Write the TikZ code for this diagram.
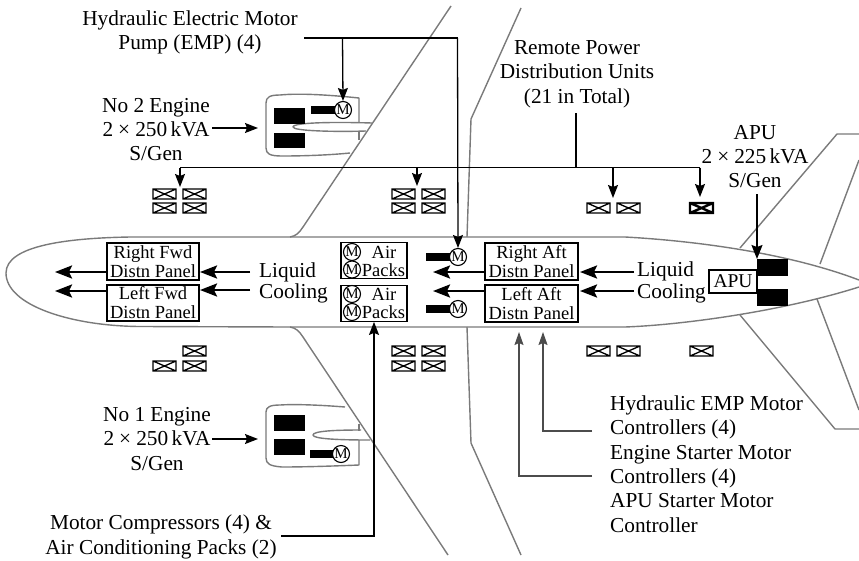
\documentclass[tikz,border=0pt]{standalone}
\usepackage{fontspec}
\setmainfont{Liberation Serif}
\usetikzlibrary{arrows.meta}
\definecolor{bodygray}{HTML}{7A7A7A}
\tikzset{
  x=1pt,y=-1pt,
  body/.style={draw=bodygray,line width=1.4pt,line join=round},
  txt/.style={inner sep=0pt,align=center,font=\fontsize{21.3}{24.3}\selectfont},
  ltxt/.style={txt,align=left},
  panel/.style={draw,line width=1.8pt,inner sep=0pt,align=center,font=\fontsize{18.5}{19}\selectfont},
  packbox/.style={draw,line width=1.3pt,inner sep=0pt},
  motor/.style={circle,draw,fill=white,line width=1.1pt,minimum size=17pt,inner sep=0pt,font=\fontsize{15}{15}\selectfont},
  blk/.style={fill=black,draw=none,inner sep=0pt},
  feed/.style={line width=1.3pt,-{Stealth[length=13pt,width=10pt,inset=2pt]}},
  feedg/.style={draw=black!70,line width=1.3pt,-{Stealth[length=13pt,width=9pt,inset=2pt]}},
  fat/.style={line width=2.4pt,-{Stealth[length=17pt,width=13pt,inset=3pt]}},
  plain/.style={line width=1.3pt},
  rpdu/.style={line width=1.3pt}
}
\newcommand{\rpbox}[3][1.3pt]{\draw[rpdu,line width=#1] (#2,#3) rectangle ++(23,10) (#2,#3) -- ++(23,10) (#2+23,#3) -- ++(-23,10);}
\newcommand{\blkbox}[5]{\node[blk,minimum width=#4pt,minimum height=#5pt] (#1) at (#2,#3) {};}
\begin{document}
\begin{tikzpicture}
\useasboundingbox (0,0) rectangle (859,560);
% fuselage
\draw[body] (290,237) -- (130,237) .. controls (70,238) and (6,245) .. (6,273) .. controls (6,305) and (70,326) .. (140,326.5) -- (290,327) -- (625,327) .. controls (680,325) and (780,312) .. (859,287);
\draw[body] (290,237) -- (625,237) .. controls (680,240) and (780,250) .. (859,280);
% wings
\draw[body] (290,237) .. controls (296,236) and (299,233) .. (303,227) -- (451,6);
\draw[body] (290,327) .. controls (296,328) and (299,331) .. (303,337) -- (448,555);
\draw[body] (467,237) -- (471,119) -- (521,8);
\draw[body] (467,327) -- (471,443) -- (521,555);
% tail
\draw[body] (740,248) -- (837,134) -- (859,134);
\draw[body] (820,264) -- (859,160);
\draw[body] (740,315) -- (835,429) -- (859,429);
\draw[body] (817,299) -- (859,410);
% upper engine
\draw[body] (359,122) -- (359,98) .. controls (330,95) and (300,93) .. (280,95) .. controls (270,95) and (266,97) .. (266,103) -- (266,148) .. controls (266,154) and (270,156) .. (282,156) .. controls (305,156) and (330,155) .. (350,153);
\draw[body] (359,131) -- (359,140);
\draw[body] (372,123) .. controls (340,122) and (293,122) .. (293,127) .. controls (293,131) and (335,132) .. (366,131);
% lower engine
\draw[body] (345,407) .. controls (320,405) and (295,404) .. (280,405) .. controls (270,405) and (266,407) .. (266,412) -- (266,458) .. controls (266,464) and (270,466) .. (282,467) .. controls (305,467) and (335,466) .. (359,465) -- (359,440);
\draw[body] (359,424) -- (359,431);
\draw[body] (361,430) .. controls (335,430) and (313,431) .. (313,435) .. controls (313,439) and (340,440) .. (370,440);
\blkbox{ua}{289.5}{116}{31}{16}
\blkbox{ub}{289.5}{140.5}{31}{15}
\blkbox{uc}{323.5}{110}{25}{8}
\node[motor] (um) at (343,110) {M};
\blkbox{la}{289.5}{423}{31}{16}
\blkbox{lb}{289.5}{447}{31}{16}
\blkbox{lc}{322.5}{454}{25}{8}
\node[motor] (lm) at (341,454) {M};
% RPDU
\foreach \x in {153,183} \foreach \y in {189,203} {\rpbox{\x}{\y}}
\foreach \x in {392,422} \foreach \y in {189,203,346,361} {\rpbox{\x}{\y}}
\rpbox{587}{203}\rpbox{617}{203}\rpbox[2.4pt]{690}{203}
\rpbox{183}{346}\rpbox{153}{361}\rpbox{183}{361}
\rpbox{587}{346}\rpbox{617}{346}\rpbox{690}{346}
% panels
\node[panel,minimum width=92pt,minimum height=37pt] (rfd) at (153,261.5) {Right Fwd\\Distn Panel};
\node[panel,minimum width=92pt,minimum height=36pt] (lfd) at (153,303) {Left Fwd\\Distn Panel};
\node[panel,minimum width=93pt,minimum height=37pt] (rad) at (531.5,261.5) {Right Aft\\Distn Panel};
\node[panel,minimum width=93pt,minimum height=37pt] (lad) at (531.5,303.5) {Left Aft\\Distn Panel};
% air packs
\node[packbox,minimum width=66pt,minimum height=36.5pt] (pk1) at (374,260.5) {};
\node[packbox,minimum width=66pt,minimum height=35.5pt] (pk2) at (374,303.5) {};
\node[motor] (m1) at (352,252) {M};
\node[motor] (m2) at (352,269.5) {M};
\node[motor] (m3) at (352,294) {M};
\node[motor] (m4) at (352,312) {M};
\node[panel,draw=none] (a1) at (384,252) {Air};
\node[panel,draw=none,anchor=east] (p1) at (406,270) {Packs};
\node[panel,draw=none] (a2) at (384,294) {Air};
\node[panel,draw=none,anchor=east] (p2) at (406,312) {Packs};
% centre motors
\blkbox{cu}{438}{257}{24}{8}
\blkbox{cl}{438}{309}{24}{8}
\node[motor] (cum) at (458,257) {M};
\node[motor] (clm) at (458,309) {M};
% APU
\node[draw,line width=1.2pt,inner sep=0pt,minimum width=48pt,minimum height=23pt,font=\fontsize{19.5}{20}\selectfont] (apu) at (733,281.5) {APU};
\blkbox{apa}{772.5}{267}{31}{17}
\blkbox{apb}{772.5}{297.5}{31}{17}
% labels
\node[txt] (hemp) at (190,32.5) {Hydraulic Electric Motor\\Pump (EMP) (4)};
\newcommand{\kva}[1]{2\hspace{5pt}×\hspace{5pt}#1\hspace{3.5pt}kVA}
\node[txt] (ne2) at (156,129.5) {No 2 Engine\\\kva{250}\\S/Gen};
\node[txt] (ne1) at (157,439) {No 1 Engine\\\kva{250}\\S/Gen};
\node[txt] (rpd) at (577,74) {Remote Power\\Distribution Units\\(21 in Total)};
\node[txt] (apl) at (755,156.5) {APU\\\kva{225}\\S/Gen};
\node[txt] (mc) at (161,537) {Motor Compressors (4) \&\\Air Conditioning Packs (2)};
\node[ltxt,anchor=west] (ctl) at (610,464) {Hydraulic EMP Motor\\Controllers (4)\\Engine Starter Motor\\Controllers (4)\\APU Starter Motor\\Controller};
\node[txt,anchor=west] (lq1) at (259,272) {Liquid};
\node[txt,anchor=west] (cl1) at (259,293) {Cooling};
\node[txt,anchor=west] (lq2) at (637,271) {Liquid};
\node[txt,anchor=west] (cl2) at (637,293) {Cooling};
% named connector ends
\coordinate (hs) at (304,38); \coordinate (hj) at (342.5,38); \coordinate (hc) at (457.5,38);
\coordinate (bl) at (180,167.5); \coordinate (bm) at (417,167.5); \coordinate (bj) at (576,167.5); \coordinate (br) at (613,167.5); \coordinate (bx) at (700,167.5);
\coordinate (rt) at (576,113);
\coordinate (dl) at (180,187); \coordinate (dm) at (417,186); \coordinate (dr) at (613,198); \coordinate (dx) at (700,197);
% connectors
\draw[plain] (hs) -- (hc);
\draw[feed] (hj) -- (um.north);
\draw[feed] (hc) -- (cum.north);
\draw[plain] (bl) -- (bx);
\draw[plain] (rt) -- (bj);
\draw[feed] (bl) -- (dl);
\draw[feed] (bm) -- (dm);
\draw[feed] (br) -- (dr);
\draw[feed] (bx) -- (dx);
\coordinate (e2s) at (212,128); \coordinate (e2t) at (258,128);
\coordinate (e1s) at (212,439); \coordinate (e1t) at (258,439);
\draw[feed] (e2s) -- (e2t);
\draw[feed] (e1s) -- (e1t);
\coordinate (au) at (757,194); \coordinate (at) at (757,259);
\draw[line width=1.6pt,-{Stealth[length=14pt,width=11pt,inset=2pt]}] (au) -- (at);
\coordinate (mcs) at (281,536); \coordinate (mcc) at (374,536);
\draw[feed] (mcs) -- (mcc) -- (pk2.south);
\coordinate (c1s) at (592,431); \coordinate (c1c) at (543,431); \coordinate (c1t) at (543,332);
\coordinate (c2s) at (592,476); \coordinate (c2c) at (519,476); \coordinate (c2t) at (519,332);
\draw[feedg] (c1s) -- (c1c) -- (c1t);
\draw[feedg] (c2s) -- (c2c) -- (c2t);
% fat arrows
\coordinate (o1) at (55,272); \coordinate (o1a) at (107,272);
\coordinate (o2) at (55,291); \coordinate (o2a) at (107,291);
\coordinate (i1) at (250,272); \coordinate (i1a) at (200,272);
\coordinate (i2) at (250,290); \coordinate (i2a) at (200,290);
\coordinate (o3) at (433,272); \coordinate (o3a) at (485,272);
\coordinate (o4) at (433,291); \coordinate (o4a) at (485,291);
\coordinate (i3) at (634,272); \coordinate (i3a) at (580,272);
\coordinate (i4) at (634,291); \coordinate (i4a) at (580,291);
\draw[fat] (o1a) -- (o1);
\draw[fat] (o2a) -- (o2);
\draw[fat] (i1) -- (i1a);
\draw[fat] (i2) -- (i2a);
\draw[fat] (o3a) -- (o3);
\draw[fat] (o4a) -- (o4);
\draw[fat] (i3) -- (i3a);
\draw[fat] (i4) -- (i4a);
\end{tikzpicture}
\end{document}
